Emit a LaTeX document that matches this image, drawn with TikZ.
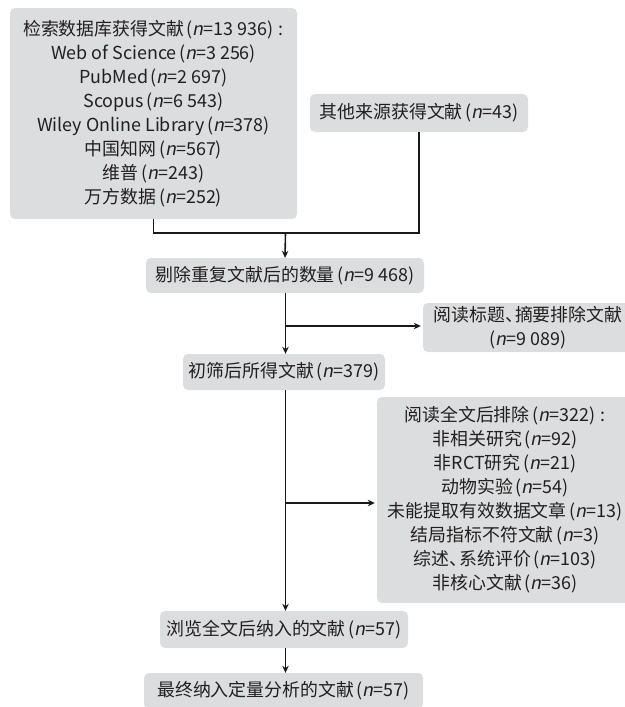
\documentclass[tikz,border=0pt]{standalone}
\usepackage{fontspec}
\setmainfont{Noto Sans CJK SC}[ItalicFont={Noto Sans CJK SC},ItalicFeatures={FakeSlant=0.2}]
\usetikzlibrary{arrows.meta}
\definecolor{boxgray}{RGB}{220,221,222}
\definecolor{txt}{RGB}{35,31,32}
\newcommand{\nn}{\textit{n}}
\newcommand{\lp}{\hspace{0.15em}(}
\newcommand{\ds}{\hspace{0.22em}}
\newcommand{\dun}{、\kern-0.45em}
\newcommand{\cln}{\hspace{0.3em}:}
\begin{document}
\begin{tikzpicture}[x=1pt,y=-1pt,
  box/.style={fill=boxgray,rounded corners=5pt,align=center,text=txt,inner sep=0pt,
     font=\fontsize{17.9pt}{24pt}\selectfont},
  conn/.style={line width=1.6pt,draw=black!90},
  arr/.style={conn,-{Stealth[length=7pt,width=6.5pt]}}]
\useasboundingbox (0,0) rectangle (624,707);
\node[box,minimum width=287pt,minimum height=211pt] (src) at (153.5,113.5)
  {检索数据库获得文献\lp\nn=13\ds936)\cln\\Web of Science\lp\nn=3\ds256)\\PubMed\lp\nn=2\ds697)\\Scopus\lp\nn=6\ds543)\\Wiley Online Library\lp\nn=378)\\中国知网\lp\nn=567)\\维普\lp\nn=243)\\万方数据\lp\nn=252)};
\node[box,minimum width=218pt,minimum height=38pt] (other) at (419,113) {其他来源获得文献\lp\nn=43)};
\node[box,minimum width=278pt,minimum height=35pt] (dedup) at (285,275.5) {剔除重复文献后的数量\lp\nn=9\ds468)};
\node[box,minimum width=210pt,minimum height=49pt] (ex1) at (528,327.5) {阅读标题\dun 摘要排除文献\\(\nn=9\ds089)};
\node[box,minimum width=202pt,minimum height=36pt] (scr) at (284,372) {初筛后所得文献\lp\nn=379)};
\node[box,minimum width=256pt,minimum height=206pt] (ex2) at (505,500)
  {阅读全文后排除\lp\nn=322)\cln\\非相关研究\lp\nn=92)\\非RCT研究\lp\nn=21)\\动物实验\lp\nn=54)\\未能提取有效数据文章\lp\nn=13)\\结局指标不符文献\lp\nn=3)\\综述\dun 系统评价\lp\nn=103)\\非核心文献\lp\nn=36)};
\node[box,minimum width=248pt,minimum height=37pt] (full) at (284,629.5) {浏览全文后纳入的文献\lp\nn=57)};
\node[box,minimum width=279pt,minimum height=36pt] (final) at (283.5,691) {最终纳入定量分析的文献\lp\nn=57)};
\coordinate (j) at (285.5,233);
\coordinate (b1) at (285.5,326);
\coordinate (b2) at (285.5,503);
\draw[conn] (src.south) -- (src.south |- j) -- (other.south |- j) -- (other.south);
\draw[arr] (j) -- (dedup.north);
\draw[arr] (dedup.south -| j) -- (scr.north -| j);
\draw[arr,shorten >=2pt] (b1) -- (ex1.west |- b1);
\draw[arr] (scr.south -| j) -- (full.north -| j);
\draw[arr,shorten >=2pt] (b2) -- (ex2.west |- b2);
\draw[arr] (full.south -| j) -- (final.north -| j);
\end{tikzpicture}
\end{document}
